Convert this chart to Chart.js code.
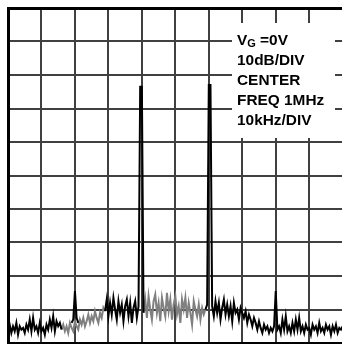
<!DOCTYPE html>
<html>
<head>
<meta charset="utf-8">
<title>Spectrum</title>
<script src="https://cdn.jsdelivr.net/npm/chart.js@4.4.1/dist/chart.umd.min.js"></script>
<style>
  html, body { margin: 0; padding: 0; background: #fff; }
  canvas { display: block; }
</style>
</head>
<body>
<canvas id="spectrum" width="342" height="344"></canvas>
<script>
'use strict';

/* offset from 1MHz centre, kHz, sampled every 0.5kHz */
var freqKHz = [];
for (var i = 0; i <= 200; i++) freqKHz.push(-50 + i * 0.5);

/* dB levels, -50kHz .. +50kHz */
var blackTrace = [
  // -50 .. -34
  -96, -94.5, -97, -95, -96.5, -94, -97.5, -95, -96, -95.5, -97, -94.5, -96, -93, -96.5, -92.5,
  -96, -95, -97, -94, -96.5, -95.5, -97.5, -94.5, -96, -93, -95.5, -92, -96.5, -93.5, -95, -94, -96,
  null, null, null, null, null,
  // -31 .. -29
  -94, -93, -84.5, -92.5, -94,
  null, null, null, null, null, null, null, null, null, null, null, null, null, null, null,
  // -21 .. -11
  -90.5, -87, -92, -88, -91.5, -86.5, -90, -93, -87.5, -91, -88.5, -93.5, -89, -87, -92, -88,
  -94, -89.5, -87.5, -92.5, -89,
  // -10.5 .. -9.5
  -23.5, -23.5, -91,
  null, null, null, null, null, null, null, null, null, null, null, null,
  null, null, null, null, null, null, null, null, null, null, null, null,
  null, null, null, null, null, null, null, null, null, null, null, null,
  // 9 .. 10.5
  -90, -88.5, -23, -23,
  // 11 .. 20
  -89, -92, -87.5, -91, -88, -93, -89.5, -87, -91.5, -88.5, -92, -89, -93.5, -88, -91, -90,
  -93, -89.5, -91,
  // 20.5 .. 29.5
  -92.5, -90.5, -94, -91.5, -93, -95, -92.5, -94, -96, -93.5, -95.5, -97, -94.5, -96, -95, -97,
  -95.5, -96.5, -95,
  // 30
  -84.5,
  // 30.5 .. 50
  -96, -95, -97, -93, -96, -92, -96.5, -95, -97, -94, -96.5, -93, -96, -92.5, -96.5, -95, -97,
  -94.5, -96, -95.5, -97.5, -94.5, -96, -95, -97, -94, -96.5, -95.5, -97, -94.5, -96, -95, -97.5,
  -95, -96.5, -94.5, -97, -95.5, -96, -95
];

/* dB levels of the grey trace */
var greyTrace = [
  null, null, null, null, null, null, null, null, null, null, null, null, null, null, null, null,
  null, null, null, null, null, null, null, null, null, null, null, null, null, null, null, null,
  // -34 .. -21
  -96, -94.5, -96.5, -95, -97, -94, -95.5, -96.5, -93.5, -95, -96, -93, -94.5, -92.5, -95, -93.5,
  -91.5, -94, -92, -93.5, -90.5, -92.5, -94, -91, -92.5, -89.5, -90.5,
  null, null, null, null, null, null, null, null, null, null, null,
  null, null, null, null, null, null, null, null, null, null, null,
  // -9.5 .. 9
  -91, -87, -92.5, -86, -90, -93, -87.5, -85.5, -91, -88, -93.5, -86.5, -89.5, -92, -85, -90.5,
  -87, -93, -88.5, -86, -91.5, -89, -94, -87, -90, -86.5, -92.5, -88, -91, -94.5, -87.5, -90,
  -92, -88.5, -93, -89.5, -91.5, -90,
  null, null, null, null, null, null, null, null, null, null, null, null, null, null, null, null,
  null, null, null, null, null, null, null, null, null, null, null, null, null, null, null, null,
  null, null, null, null, null, null, null, null, null, null, null, null, null, null, null, null,
  null, null, null, null, null, null, null, null, null, null, null, null, null, null, null, null,
  null, null, null, null, null, null, null, null, null, null, null, null, null, null, null, null,
  null, null
];

var xTicks = [-50, -40, -30, -20, -10, 0, 10, 20, 30, 40];
var yTicks = [0, -10, -20, -30, -40, -50, -60, -70, -80, -90, -100];

var notes = ['10dB/DIV', 'CENTER', 'FREQ 1MHz', '10kHz/DIV'];

function points(levels) {
  return freqKHz.map(function (x, i) {
    return { x: x, y: levels[i] };
  });
}

function edgeColor(edgeValue) {
  return function (c) { return c.tick && c.tick.value === edgeValue ? '#000' : '#404040'; };
}
function edgeWidth(edgeValue) {
  return function (c) { return c.tick && c.tick.value === edgeValue ? 3 : 2; };
}

/* white panel with the settings text */
var legendBox = {
  id: 'legendBox',
  beforeDatasetsDraw: function (chart) {
    var ctx = chart.ctx;
    ctx.save();
    ctx.fillStyle = '#fff';
    ctx.fillRect(232, 23, 103, 115);
    ctx.fillStyle = '#000';
    ctx.textBaseline = 'alphabetic';

    ctx.save();
    ctx.translate(237, 44.5);
    ctx.scale(1.1, 1);
    ctx.font = 'bold 14px "Liberation Sans", Arial, sans-serif';
    ctx.fillText('V', 0, 0);
    var w = ctx.measureText('V').width;
    ctx.font = 'bold 10px "Liberation Sans", Arial, sans-serif';
    ctx.fillText('G', w, 2);
    var wg = ctx.measureText('G').width;
    ctx.font = 'bold 14px "Liberation Sans", Arial, sans-serif';
    ctx.fillText(' =0V', w + wg, 0);
    ctx.restore();

    notes.forEach(function (t, i) {
      ctx.save();
      ctx.translate(237, 64.5 + i * 20.2);
      ctx.scale(1.1, 1);
      ctx.font = 'bold 14px "Liberation Sans", Arial, sans-serif';
      ctx.fillText(t, 0, 0);
      ctx.restore();
    });
    ctx.restore();
  }
};

new Chart(document.getElementById('spectrum'), {
  type: 'line',
  data: {
    datasets: [
      {
        data: points(blackTrace),
        borderColor: '#000',
        borderWidth: 2,
        pointRadius: 0,
        tension: 0,
        spanGaps: false
      },
      {
        data: points(greyTrace),
        borderColor: '#808080',
        borderWidth: 2,
        pointRadius: 0,
        tension: 0,
        spanGaps: false
      }
    ]
  },
  options: {
    responsive: false,
    animation: false,
    devicePixelRatio: 1,
    layout: { padding: { left: 8, top: 8, right: 0, bottom: 1 } },
    plugins: { legend: { display: false }, tooltip: { enabled: false } },
    scales: {
      x: {
        type: 'linear',
        min: -50,
        max: 49.8,
        afterBuildTicks: function (s) { s.ticks = xTicks.map(function (v) { return { value: v }; }); },
        ticks: { display: false },
        grid: { drawTicks: false, color: edgeColor(-50), lineWidth: edgeWidth(-50) },
        border: { color: '#000', width: 3 }
      },
      y: {
        min: -100,
        max: 0,
        afterBuildTicks: function (s) { s.ticks = yTicks.map(function (v) { return { value: v }; }); },
        ticks: { display: false },
        grid: { drawTicks: false, color: edgeColor(0), lineWidth: edgeWidth(0) },
        border: { color: '#000', width: 3 }
      }
    }
  },
  plugins: [legendBox]
});
</script>
</body>
</html>
